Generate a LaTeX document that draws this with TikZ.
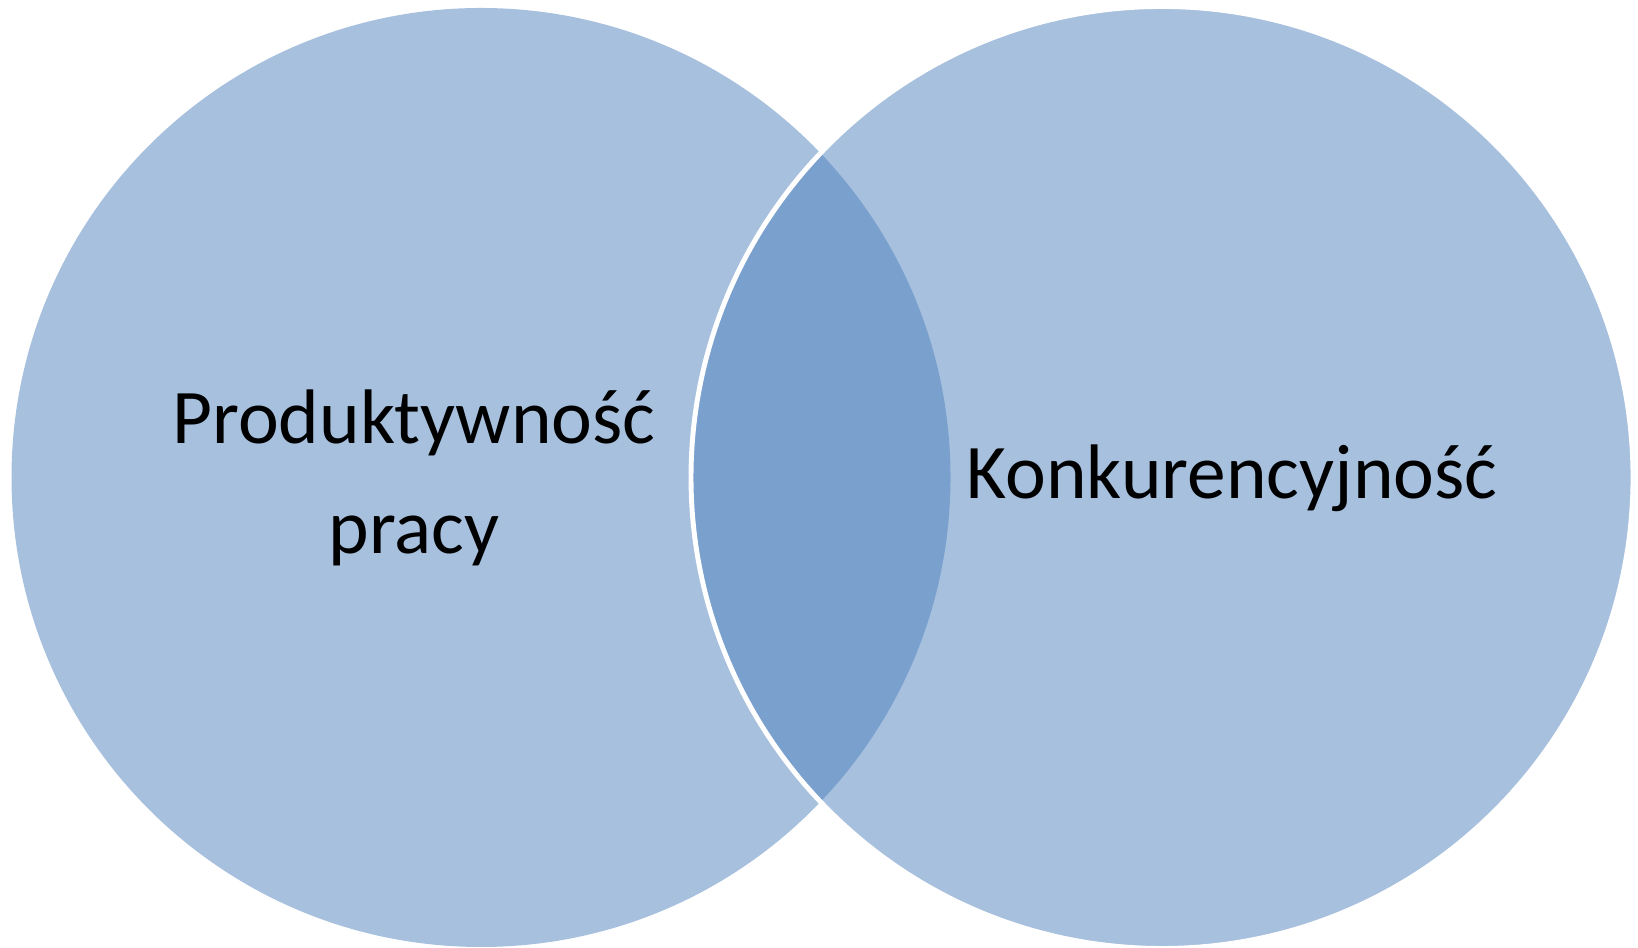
\documentclass[tikz,border=0pt]{standalone}
\usepackage{fontspec}
\setmainfont{Carlito}
\usetikzlibrary{positioning}
\definecolor{vennblue}{HTML}{4F81BD}
\tikzstyle{set}=[circle,fill=vennblue,fill opacity=0.5,inner sep=0pt]
\tikzstyle{settext}=[font=\fontsize{22}{31.5}\selectfont,text=black,inner sep=0pt]

\begin{document}
\begin{tikzpicture}
    \useasboundingbox (0,0) rectangle (16.38,9.48);

    % dwa zbiory, prawy z biała krawędzią
    \node[set,minimum size=9.39cm] (prod) at (4.81,4.705) {};
    \node[set,minimum size=9.42cm,draw=white,draw opacity=1,line width=1.4pt] (konk) at (11.62,4.705) {};

    % podpisy
    \node[settext,align=center] (prodtext) at (4.14,4.70) {Produktywność\\pracy};
    \node[settext,anchor=base] (konktext) at (12.32,4.49) {Konkurencyjność};
\end{tikzpicture}
\end{document}
